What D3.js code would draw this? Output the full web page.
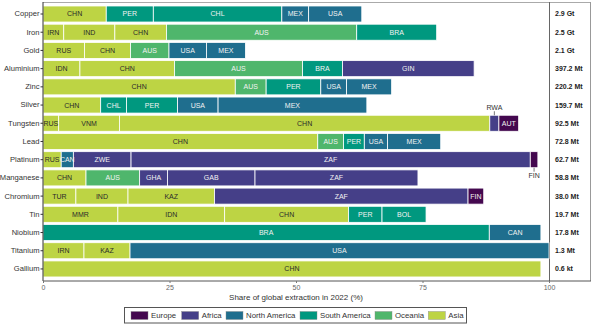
<!DOCTYPE html>
<html><head><meta charset="utf-8">
<script src="https://cdn.jsdelivr.net/npm/d3@7"></script>
<style>
html,body{margin:0;padding:0;background:#fff;}
svg{display:block;font-family:"Liberation Sans",Arial,sans-serif;}
</style></head>
<body><svg id="chart" width="600" height="326"></svg>
<script>
const minerals = ["Copper","Iron","Gold","Aluminium","Zinc","Silver","Tungsten","Lead","Platinum","Manganese","Chromium","Tin","Niobium","Titanium","Gallium"];
const totals = ["2.9 Gt","2.5 Gt","2.1 Gt","397.2 Mt","220.2 Mt","159.7 Mt","92.5 Mt","72.8 Mt","62.7 Mt","58.8 Mt","38.0 Mt","19.7 Mt","17.8 Mt","1.3 Mt","0.6 kt"];
const countries = [
  ["CHN","PER","CHL","MEX","USA"],
  ["IRN","IND","CHN","AUS","BRA"],
  ["RUS","CHN","AUS","USA","MEX"],
  ["IDN","CHN","AUS","BRA","GIN"],
  ["CHN","AUS","PER","USA","MEX"],
  ["CHN","CHL","PER","USA","MEX"],
  ["RUS","VNM","CHN","RWA","AUT"],
  ["CHN","AUS","PER","USA","MEX"],
  ["RUS","CAN","ZWE","ZAF","FIN"],
  ["CHN","AUS","GHA","GAB","ZAF"],
  ["TUR","IND","KAZ","ZAF","FIN"],
  ["MMR","IDN","CHN","PER","BOL"],
  ["BRA","CAN"],
  ["IRN","KAZ","USA"],
  ["CHN"]
];
const shares = [
  [12.5, 9.3, 25.4, 5.3, 10.5],
  [4.1, 10.1, 10.2, 37.6, 15.8],
  [8.2, 9.1, 7.6, 7.4, 7.7],
  [7.3, 18.7, 25.3, 7.9, 26.0],
  [38.0, 6.1, 10.8, 5.1, 8.9],
  [11.4, 5.1, 10.1, 8.0, 29.4],
  [3.1, 12.0, 73.2, 1.8, 3.9],
  [54.3, 5.1, 4.1, 4.6, 10.5],
  [3.6, 2.4, 11.4, 78.9, 1.5],
  [8.5, 10.6, 5.5, 17.3, 32.2],
  [6.5, 10.3, 17.1, 50.1, 3.1],
  [14.8, 21.1, 24.5, 6.6, 8.7],
  [88.2, 10.2],
  [8.1, 9.1, 82.8],
  [98.4]
];
const countryRegion = {
  CHN:"Asia", PER:"South America", CHL:"South America", MEX:"North America", USA:"North America",
  IRN:"Asia", IND:"Asia", AUS:"Oceania", BRA:"South America", RUS:"Asia", IDN:"Asia",
  GIN:"Africa", VNM:"Asia", RWA:"Africa", AUT:"Europe", CAN:"North America", ZWE:"Africa",
  ZAF:"Africa", FIN:"Europe", GHA:"Africa", GAB:"Africa", TUR:"Asia", KAZ:"Asia",
  MMR:"Asia", BOL:"South America"
};
const regions = ["Europe","Africa","North America","South America","Oceania","Asia"];
const xTicks = [0,25,50,75,100];
const axisTitle = "Share of global extraction in 2022 (%)";
// labels drawn outside the bar (mineral|country -> side)
const outsideLabels = {"Tungsten|RWA":"above","Platinum|FIN":"below"};

const color = d3.scaleOrdinal().domain(regions)
  .range(["#44084f","#453f88","#1f6e8e","#00987f","#4fb66c","#bdd444"]);

const svg = d3.select("#chart");
const X0 = 43, X1 = 549, PR = 591, YT = 2, YB = 281;
const x = d3.scaleLinear().domain([0,100]).range([X0, X1]);
const y = d3.scaleBand().domain(minerals).range([4.9, 278.05]).paddingInner(0.12).paddingOuter(0.06);

// frame
svg.append("line").attr("x1",X0).attr("x2",PR).attr("y1",YT+0.5).attr("y2",YT+0.5).attr("stroke","#aaa").attr("stroke-width",1);
svg.append("line").attr("x1",PR-0.5).attr("x2",PR-0.5).attr("y1",YT).attr("y2",YB).attr("stroke","#999").attr("stroke-width",1);
svg.append("line").attr("x1",X1+0.5).attr("x2",X1+0.5).attr("y1",YT).attr("y2",YB).attr("stroke","#666").attr("stroke-width",1);

// build segments
const segs = [];
minerals.forEach((m,i)=>{
  let cum = 0;
  countries[i].forEach((c,j)=>{
    const v = shares[i][j];
    segs.push({m, c, x0:cum, x1:cum+v, region:countryRegion[c]});
    cum += v;
  });
});

const g = svg.append("g");
g.selectAll("rect").data(segs).join("rect")
  .attr("x", d=>x(d.x0)).attr("width", d=>Math.max(0, x(d.x1)-x(d.x0)))
  .attr("y", d=>y(d.m)).attr("height", y.bandwidth())
  .attr("fill", d=>color(d.region))
  .attr("stroke","#fff").attr("stroke-width",0.8);

const inside = segs.filter(d=>!outsideLabels[d.m+"|"+d.c]);
g.selectAll("text.seg").data(inside).join("text").attr("class","seg")
  .attr("x", d=>x((d.x0+d.x1)/2)).attr("y", d=>y(d.m)+y.bandwidth()/2)
  .attr("dy","0.35em").attr("text-anchor","middle")
  .attr("font-size",7)
  .attr("fill", d=>d.region==="Asia" ? "#2b2b2b" : "#f2f2f2")
  .text(d=>d.c);

const outs = segs.filter(d=>outsideLabels[d.m+"|"+d.c]);
outs.forEach(d=>{
  const side = outsideLabels[d.m+"|"+d.c];
  const cx = x((d.x0+d.x1)/2);
  const top = y(d.m), bot = y(d.m)+y.bandwidth();
  if(side==="above"){
    svg.append("line").attr("x1",cx).attr("x2",cx).attr("y1",top-4).attr("y2",top).attr("stroke","#555").attr("stroke-width",0.8);
    svg.append("text").attr("x",cx).attr("y",top-5).attr("text-anchor","middle").attr("font-size",7).attr("fill","#333").text(d.c);
  } else {
    svg.append("line").attr("x1",cx).attr("x2",cx).attr("y1",bot).attr("y2",bot+4).attr("stroke","#555").attr("stroke-width",0.8);
    svg.append("text").attr("x",cx).attr("y",bot+10).attr("text-anchor","middle").attr("font-size",7).attr("fill","#333").text(d.c);
  }
});

// y axis
const yAxis = svg.append("g").attr("transform",`translate(${X0},0)`)
  .call(d3.axisLeft(y).tickSize(2.5).tickPadding(1));
yAxis.attr("fill","#333");
yAxis.select(".domain").attr("d",`M0,${YT}V${YB}`).attr("stroke","#333");
yAxis.selectAll(".tick line").attr("stroke","#333");
yAxis.selectAll("text").attr("font-size",7.6).attr("fill","#333").attr("font-family","Liberation Sans, Arial, sans-serif");

// x axis
const xAxis = svg.append("g").attr("transform",`translate(0,${YB})`)
  .call(d3.axisBottom(x).tickValues(xTicks).tickSize(2).tickPadding(2));
xAxis.select(".domain").attr("d",`M${X0},0H${PR}`).attr("stroke","#555");
xAxis.selectAll(".tick line").attr("stroke","#777");
xAxis.selectAll("text").attr("font-size",7).attr("fill","#666").attr("font-family","Liberation Sans, Arial, sans-serif");

svg.append("text").attr("x",(X0+X1)/2).attr("y",300).attr("text-anchor","middle")
  .attr("font-size",8).attr("fill","#333").text(axisTitle);

// totals panel
svg.selectAll("text.tot").data(minerals).join("text").attr("class","tot")
  .attr("x",555).attr("y",d=>y(d)+y.bandwidth()/2).attr("dy","0.35em")
  .attr("font-size",7).attr("font-weight","bold").attr("fill","#222")
  .text((d,i)=>totals[i]);

// legend
const legX = [131,181.7,226,300,375,428.3];
const leg = svg.append("g");
leg.append("rect").attr("x",124.5).attr("y",307.5).attr("width",342).attr("height",15.5)
  .attr("fill","#fff").attr("stroke","#555").attr("stroke-width",1);
regions.forEach((r,i)=>{
  leg.append("rect").attr("x",legX[i]).attr("y",311.5).attr("width",17).attr("height",8).attr("fill",color(r)).attr("stroke","#888").attr("stroke-width",0.4);
  leg.append("text").attr("x",legX[i]+20).attr("y",315.5).attr("dy","0.35em").attr("font-size",7.8).attr("fill","#333").text(r);
});
</script>
</body></html>
